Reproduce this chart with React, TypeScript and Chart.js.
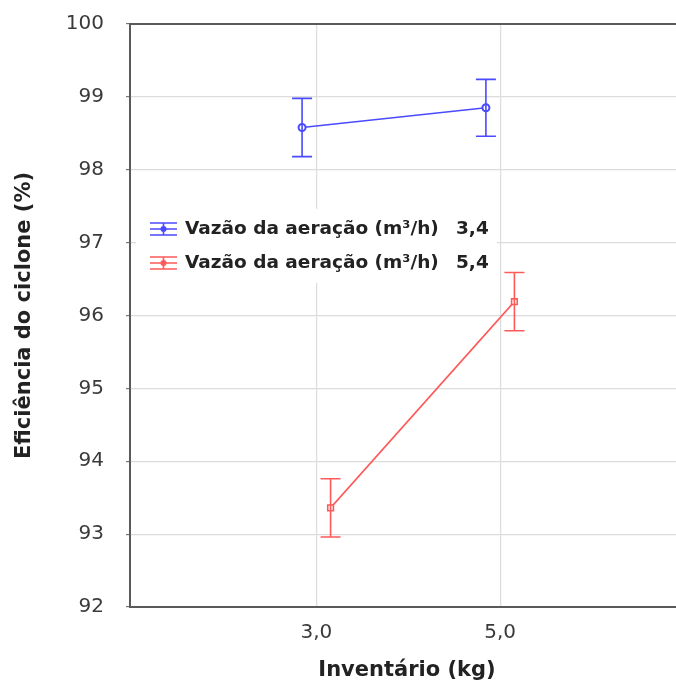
import React, { useEffect, useRef } from "react";
import { Chart, registerables } from "chart.js";

Chart.register(...registerables);

// ---- data ----
const inventario = [3.0, 5.0];
const inventarioLabels = ["3,0", "5,0"];
const vazaoValues = ["3,4", "5,4"];
const seriesLabel = "Vazão da aeração (m³/h)";
const eficiencia34 = [98.58, 98.85];
const erro34 = [0.4, 0.39];
const eficiencia54 = [93.36, 96.19];
const erro54 = [0.4, 0.4];
const yTickValues = [92, 93, 94, 95, 96, 97, 98, 99, 100];

const BLUE = "#4a4aff";
const RED = "#ff5a5a";
const FONT = "'DejaVu Sans', Arial, sans-serif";
const DODGE = 0.155;

const errorBarPlugin = {
  id: "errorBars",
  afterDatasetsDraw(chart: any) {
    const ctx = chart.ctx;
    const y = chart.scales.y;
    chart.data.datasets.forEach((ds: any, i: number) => {
      const meta = chart.getDatasetMeta(i);
      ctx.save();
      ctx.strokeStyle = ds.borderColor;
      ctx.lineWidth = 1.6;
      meta.data.forEach((pt: any, j: number) => {
        const v = ds.data[j].y;
        const e = ds.errors[j];
        const yt = y.getPixelForValue(v + e);
        const yb = y.getPixelForValue(v - e);
        const x = pt.x;
        ctx.beginPath();
        ctx.moveTo(x, yt);
        ctx.lineTo(x, yb);
        ctx.moveTo(x - 10, yt);
        ctx.lineTo(x + 10, yt);
        ctx.moveTo(x - 10, yb);
        ctx.lineTo(x + 10, yb);
        ctx.stroke();
      });
      ctx.restore();
    });
  },
};

const frameLegendPlugin = {
  id: "frameLegend",
  afterDatasetsDraw(chart: any) {
    const ctx = chart.ctx;
    const a = chart.chartArea;
    ctx.save();
    // top frame line
    ctx.strokeStyle = "#5a5a5a";
    ctx.lineWidth = 2;
    ctx.beginPath();
    ctx.moveTo(a.left - 1, a.top);
    ctx.lineTo(a.right, a.top);
    ctx.stroke();

    // legend box (inside plot area)
    const bx = a.left + 6;
    const by = a.top + 185;
    ctx.fillStyle = "#ffffff";
    ctx.fillRect(bx, by, 361, 74);
    chart.data.datasets.forEach((ds: any, i: number) => {
      const cy = by + 20 + i * 34;
      const ix = bx + 14;
      ctx.strokeStyle = ds.borderColor;
      ctx.fillStyle = ds.borderColor;
      ctx.lineWidth = 1.6;
      ctx.beginPath();
      ctx.moveTo(ix, cy - 6);
      ctx.lineTo(ix + 27, cy - 6);
      ctx.moveTo(ix, cy);
      ctx.lineTo(ix + 27, cy);
      ctx.moveTo(ix, cy + 6);
      ctx.lineTo(ix + 27, cy + 6);
      ctx.moveTo(ix + 13.5, cy - 6);
      ctx.lineTo(ix + 13.5, cy + 6);
      ctx.stroke();
      ctx.beginPath();
      ctx.arc(ix + 13.5, cy, 3, 0, Math.PI * 2);
      ctx.fill();
      ctx.fillStyle = "#222222";
      ctx.font = `bold 18.5px ${FONT}`;
      ctx.textBaseline = "middle";
      ctx.textAlign = "left";
      ctx.fillText(ds.label, bx + 49, cy);
      ctx.fillText(ds.vazao, bx + 320, cy);
    });
    ctx.restore();
  },
};

export default function App() {
  const ref = useRef<HTMLCanvasElement | null>(null);
  useEffect(() => {
    if (!ref.current) return;
    const chart = new Chart(ref.current, {
      type: "line",
      data: {
        datasets: [
          {
            label: seriesLabel,
            vazao: vazaoValues[0],
            errors: erro34,
            data: inventario.map((x, i) => ({ x: x - DODGE, y: eficiencia34[i] })),
            borderColor: BLUE,
            backgroundColor: "#ffffff",
            borderWidth: 1.6,
            pointStyle: "circle",
            pointRadius: 3.5,
            pointBorderWidth: 2,
          } as any,
          {
            label: seriesLabel,
            vazao: vazaoValues[1],
            errors: erro54,
            data: inventario.map((x, i) => ({ x: x + DODGE, y: eficiencia54[i] })),
            borderColor: RED,
            backgroundColor: "#ffffff",
            borderWidth: 1.6,
            pointStyle: "rect",
            pointRadius: 4,
            pointBorderWidth: 1.6,
          } as any,
        ],
      },
      options: {
        animation: false,
        responsive: false,
        layout: { padding: { top: 13, left: 0, right: 0, bottom: 0 } },
        plugins: { legend: { display: false }, tooltip: { enabled: false } },
        scales: {
          x: {
            type: "linear",
            min: 0.973,
            max: 7.0,
            afterBuildTicks: (s: any) => {
              s.ticks = inventario.map((v) => ({ value: v }));
            },
            afterFit: (s: any) => {
              s.height = 80;
            },
            ticks: {
              padding: 14,
              color: "#3a3a3a",
              font: { family: FONT, size: 20 },
              callback: (v: any) => inventarioLabels[inventario.indexOf(Number(v))] ?? "",
              maxRotation: 0,
            },
            grid: { color: "#dcdcdc", lineWidth: 1.2, drawTicks: false },
            border: { color: "#5a5a5a", width: 2 },
            title: {
              display: true,
              text: "Inventário (kg)",
              color: "#222222",
              font: { family: FONT, size: 21, weight: "bold" },
              padding: { top: 0, bottom: 4 },
            },
          },
          y: {
            type: "linear",
            min: 92,
            max: 100,
            afterBuildTicks: (s: any) => {
              s.ticks = yTickValues.map((v) => ({ value: v }));
            },
            afterFit: (s: any) => {
              s.width = 130;
            },
            ticks: {
              padding: 22,
              color: "#3a3a3a",
              font: { family: FONT, size: 20 },
            },
            grid: { color: "#dcdcdc", lineWidth: 1.2, tickLength: 4, tickColor: "#777" },
            border: { color: "#5a5a5a", width: 2 },
            title: {
              display: true,
              text: "Eficiência do ciclone (%)",
              color: "#222222",
              font: { family: FONT, size: 21, weight: "bold" },
              padding: { top: 12, bottom: 0 },
            },
          },
        },
      },
      plugins: [errorBarPlugin, frameLegendPlugin],
    } as any);
    return () => chart.destroy();
  }, []);
  return (
    <div style={{ position: "fixed", left: 0, top: -10, width: 690, height: 697, background: "#fff" }}>
      <canvas ref={ref} width={690} height={697} />
    </div>
  );
}
